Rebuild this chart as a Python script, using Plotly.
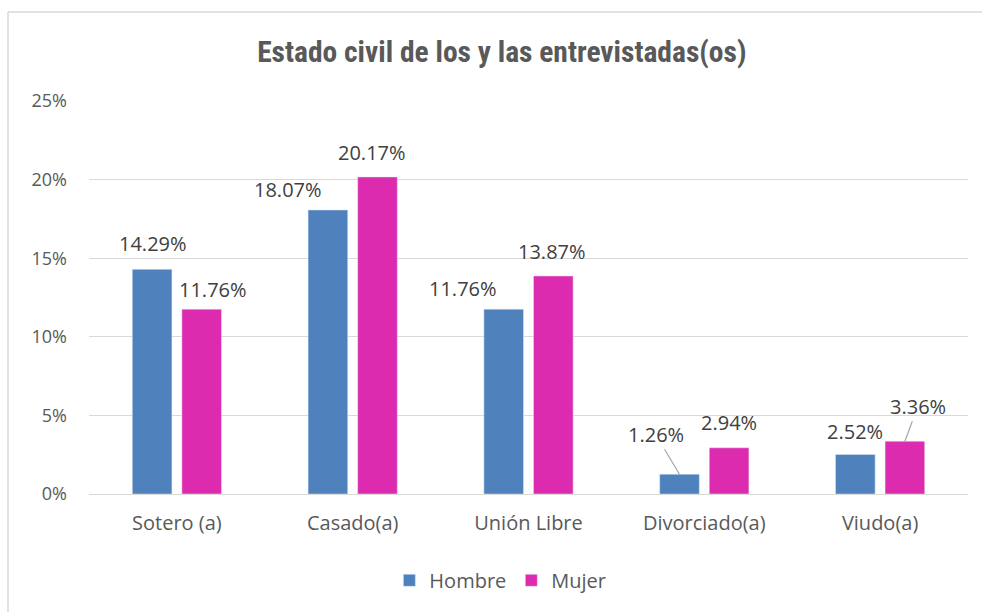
import plotly.graph_objects as go

categories = ["Sotero (a)", "Casado(a)", "Unión Libre", "Divorciado(a)", "Viudo(a)"]
hombre = [14.29, 18.07, 11.76, 1.26, 2.52]
mujer = [11.76, 20.17, 13.87, 2.94, 3.36]
y_ticks = [0, 5, 10, 15, 20, 25]
y_tick_labels = ["0%", "5%", "10%", "15%", "20%", "25%"]

BLUE = "#4F81BD"
MAGENTA = "#DD2BAF"
TXT = "#595959"
FONT = "Open Sans, DejaVu Sans, sans-serif"

fig = go.Figure()
fig.add_trace(go.Bar(x=categories, y=hombre, name="Hombre", marker=dict(color=BLUE)))
fig.add_trace(go.Bar(x=categories, y=mujer, name="Mujer", marker=dict(color=MAGENTA)))

bargap = 0.436
half = (1 - bargap) / 4  # offset of each bar centre from category centre (data units)

# label placement styles (pixel offsets relative to bar top centre)
h_off = [(1, 26), (-40, 20), (-41, 21), None, (0, 23)]
m_off = [(11, 20), (-5, 24), (-1, 24), (0, 25), None]
h_arrow = [None, None, None, (-24, -40), None]
m_arrow = [None, None, None, None, (13, -35)]

ann = []
for i in range(len(categories)):
    for vals, off, arr, sign in ((hombre, h_off, h_arrow, -1), (mujer, m_off, m_arrow, 1)):
        txt = f"{vals[i]:.2f}%"
        xi = i + sign * half
        if arr is not None and arr[i] is not None:
            ax, ay = arr[i]
            ann.append(dict(x=xi, y=vals[i], xref="x", yref="y", text=txt, showarrow=True,
                            ax=ax, ay=ay, arrowhead=0, arrowwidth=1.2, arrowcolor="#A6A6A6",
                            standoff=0, font=dict(family=FONT, size=20, color="#404040")))
        else:
            dx, dy = off[i]
            ann.append(dict(x=xi, y=vals[i], xref="x", yref="y", text=txt, showarrow=False,
                            xshift=dx, yshift=dy, font=dict(family=FONT, size=20, color="#404040")))

bx0, bx1 = (8 - 89) / 879, (1010 - 89) / 879
by0, by1 = (494 - 630) / 393, (494 - 12) / 393
border = dict(color="#D9D9D9", width=1.5)

fig.update_layout(
    width=982, height=612,
    margin=dict(l=89, r=14, t=101, b=118),
    paper_bgcolor="white", plot_bgcolor="white",
    barmode="group", bargap=bargap, bargroupgap=0.2,
    title=dict(text="<b>Estado civil de los y las entrevistadas(os)</b>", x=0.511, xanchor="center",
               y=0.915, yanchor="middle",
               font=dict(family="Liberation Sans Narrow, Roboto Condensed, Open Sans, sans-serif", size=29.5, color=TXT)),
    xaxis=dict(showgrid=False, showline=False, ticks="", ticklabelstandoff=15,
               tickfont=dict(family=FONT, size=20, color=TXT)),
    yaxis=dict(range=[0, 25], tickvals=y_ticks, ticktext=y_tick_labels, showgrid=True,
               gridcolor="#D9D9D9", gridwidth=1.3, zeroline=True, zerolinecolor="#D9D9D9", zerolinewidth=1.3,
               showline=False, ticks="", ticklabelstandoff=21,
               tickfont=dict(family=FONT, size=18, color=TXT)),
    legend=dict(orientation="h", x=0.468, xanchor="center", y=-0.17, yanchor="top",
                font=dict(family=FONT, size=20, color=TXT), itemwidth=30, traceorder="normal"),
    annotations=ann,
    shapes=[
        dict(type="line", xref="paper", yref="paper", x0=bx0, x1=bx1, y0=by1, y1=by1, line=border, layer="below"),
        dict(type="line", xref="paper", yref="paper", x0=bx0, x1=bx0, y0=by0, y1=by1, line=border, layer="below"),
    ],
)

fig.write_html("out.html", config={"displayModeBar": False},
               post_script="document.body.style.margin='0';document.body.style.overflow='hidden';")
